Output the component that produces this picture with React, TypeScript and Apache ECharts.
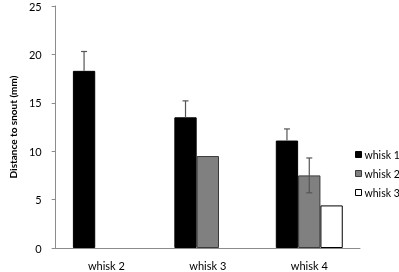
import React, { useEffect, useRef } from "react";
import * as echarts from "echarts";

const categories = ["whisk 2", "whisk 3", "whisk 4"];
const seriesNames = ["whisk 1", "whisk 2", "whisk 3"];
const whisk1 = [18.3, 13.5, 11.1];
const whisk2 = [null, 9.5, 7.5];
const whisk3 = [null, null, 4.4];
const whisk1Err = [2.0, 1.7, 1.2];
const whisk2Err = [null, null, 1.8];
const yTicks = [0, 5, 10, 15, 20, 25];

const FONT = "Lato, 'Open Sans', sans-serif";
const CAT_GAP = 0.34;

export default function App() {
  const ref = useRef<HTMLDivElement>(null);
  useEffect(() => {
    if (!ref.current) return;
    const chart = echarts.init(ref.current, undefined, { renderer: "svg" });
    const errData: any[] = [];
    whisk1.forEach((v, i) => {
      if (v != null && whisk1Err[i] != null) errData.push([i, v, whisk1Err[i], 0, 0]);
    });
    whisk2.forEach((v, i) => {
      if (v != null && whisk2Err[i] != null) errData.push([i, v, whisk2Err[i], 1, 1]);
    });
    const option: any = {
      animation: false,
      grid: { left: 42, right: 39, top: 6, bottom: 24 },
      legend: {
        orient: "vertical",
        left: 355,
        top: 149,
        padding: 0,
        itemWidth: 6,
        itemHeight: 6,
        itemGap: 8,
        icon: "rect",
        data: [
          { name: seriesNames[0], itemStyle: { color: "#000", borderColor: "#000", borderWidth: 1 } },
          { name: seriesNames[1], itemStyle: { color: "#808080", borderColor: "#3a3a3a", borderWidth: 1 } },
          { name: seriesNames[2], itemStyle: { color: "#fff", borderColor: "#000", borderWidth: 1 } },
        ],
        textStyle: { fontFamily: FONT, fontSize: 10.5, color: "#000", padding: [0, 0, 0, -2] },
      },
      xAxis: {
        type: "category",
        data: categories,
        axisLine: { lineStyle: { color: "#8c8c8c" } },
        axisTick: { length: 5, lineStyle: { color: "#8c8c8c" } },
        axisLabel: { fontFamily: FONT, fontSize: 11, color: "#000", margin: 12 },
      },
      yAxis: {
        type: "value",
        min: 0,
        max: 25,
        interval: 5,
        name: "Distance to snout (mm)",
        nameLocation: "middle",
        nameGap: 33,
        nameTextStyle: { fontFamily: FONT, fontSize: 10, fontWeight: "bold", color: "#000" },
        axisLine: { show: true, lineStyle: { color: "#8c8c8c" } },
        axisTick: { show: true, length: 4, lineStyle: { color: "#8c8c8c" } },
        axisLabel: {
          fontFamily: FONT,
          fontSize: 11,
          color: "#000",
          margin: 14,
          formatter: (v: number) => (yTicks.includes(v) ? String(v) : ""),
        },
        splitLine: { show: false },
      },
      series: [
        {
          name: seriesNames[0],
          type: "bar",
          data: whisk1,
          barGap: "0%",
          barCategoryGap: CAT_GAP * 100 + "%",
          itemStyle: { color: "#000", borderColor: "#000", borderWidth: 1 },
        },
        {
          name: seriesNames[1],
          type: "bar",
          data: whisk2,
          barGap: "0%",
          barCategoryGap: CAT_GAP * 100 + "%",
          itemStyle: { color: "#808080", borderColor: "#3a3a3a", borderWidth: 1 },
        },
        {
          name: seriesNames[2],
          type: "bar",
          data: whisk3,
          barGap: "0%",
          barCategoryGap: CAT_GAP * 100 + "%",
          itemStyle: { color: "#fff", borderColor: "#000", borderWidth: 1 },
        },
        {
          type: "custom",
          z: 10,
          data: errData,
          renderItem: (params: any, api: any) => {
            const ci = api.value(0);
            const v = api.value(1);
            const e = api.value(2);
            const si = api.value(3);
            const both = api.value(4) === 1;
            const bandW = api.size([1, 0])[0];
            const bw = (bandW * (1 - CAT_GAP)) / 3;
            const c = api.coord([ci, v]);
            const x = c[0] + (si - 1) * bw;
            const top = api.coord([ci, v + e])[1];
            const bot = both ? api.coord([ci, v - e])[1] : c[1];
            const style = { stroke: "#555", lineWidth: 1.2 };
            const children: any[] = [
              { type: "line", shape: { x1: x, y1: top, x2: x, y2: bot }, style },
              { type: "line", shape: { x1: x - 3, y1: top, x2: x + 3, y2: top }, style },
            ];
            if (both) children.push({ type: "line", shape: { x1: x - 3, y1: bot, x2: x + 3, y2: bot }, style });
            return { type: "group", children };
          },
        },
      ],
    };
    chart.setOption(option);
    return () => chart.dispose();
  }, []);
  return <div ref={ref} style={{ position: "fixed", left: 0, top: 0, width: 399, height: 272 }} />;
}
